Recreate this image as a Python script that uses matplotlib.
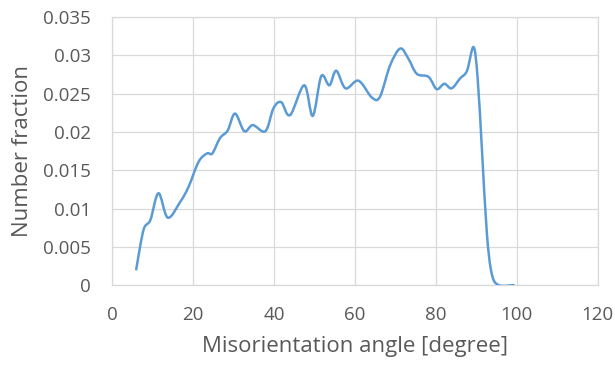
import matplotlib.pyplot as plt
import numpy as np
from matplotlib.patches import PathPatch
from matplotlib.path import Path

# values
angle = [6.0, 7.8, 9.5, 11.5, 13.8, 16.9, 18.9, 21.4, 23.5, 24.8, 26.7, 28.6,
         30.4, 32.7, 34.8, 37.9, 39.9, 41.8, 44.0, 47.5, 49.6, 51.7, 53.7,
         55.4, 57.7, 60.9, 64.2, 66.2, 68.7, 71.2, 73.2, 75.3, 78.2, 80.2,
         82.1, 83.9, 86.0, 87.7, 89.3, 90.3, 91.4, 92.6, 93.8, 95.5, 99.2]
fraction = [0.00205, 0.0072, 0.0085, 0.0120, 0.0088, 0.0109, 0.0128, 0.0161,
            0.0172, 0.0172, 0.0192, 0.0202, 0.0224, 0.0201, 0.0209, 0.0201,
            0.0231, 0.0239, 0.0222, 0.0261, 0.0221, 0.0273, 0.0261, 0.0280,
            0.0257, 0.0267, 0.0245, 0.0246, 0.0287, 0.0309, 0.0296, 0.0276,
            0.0272, 0.0256, 0.0263, 0.0257, 0.0270, 0.0280, 0.0311, 0.0272,
            0.0176, 0.0068, 0.0015, 0.0, 0.0]

x_ticks = [0, 20, 40, 60, 80, 100, 120]
y_ticks = [0, 0.005, 0.01, 0.015, 0.02, 0.025, 0.03, 0.035]
y_tick_labels = ["0", "0.005", "0.01", "0.015", "0.02", "0.025", "0.03", "0.035"]

LINE_COLOR = "#5b9bd5"
GRID_COLOR = "#d9d9d9"
TEXT_COLOR = "#595959"


def smooth_path(xs, ys, tension=1 / 6):
    # Excel-like smoothed line: Catmull-Rom segments as cubic Beziers
    pts = np.column_stack([xs, ys])
    verts = [pts[0]]
    codes = [Path.MOVETO]
    for i in range(len(pts) - 1):
        p0 = pts[max(i - 1, 0)]
        p1 = pts[i]
        p2 = pts[i + 1]
        p3 = pts[min(i + 2, len(pts) - 1)]
        c1 = p1 + (p2 - p0) * tension
        c2 = p2 - (p3 - p1) * tension
        verts += [c1, c2, p2]
        codes += [Path.CURVE4] * 3
    return Path(verts, codes)


plt.rcParams["font.family"] = ["Open Sans", "DejaVu Sans"]

fig = plt.figure(figsize=(6.15, 3.65), dpi=100)
ax = fig.add_axes([0.182, 0.219, 0.79, 0.734])

ax.add_patch(PathPatch(smooth_path(angle, fraction), facecolor="none",
                       edgecolor=LINE_COLOR, linewidth=1.8,
                       capstyle="round", joinstyle="round", zorder=3))

ax.set_xlim(0, 120)
ax.set_ylim(0, 0.035)
ax.set_xticks(x_ticks)
ax.set_yticks(y_ticks)
ax.set_yticklabels(y_tick_labels)
ax.grid(True, color=GRID_COLOR, linewidth=0.9)
ax.set_axisbelow(True)
for spine in ax.spines.values():
    spine.set_color(GRID_COLOR)
    spine.set_linewidth(0.9)
ax.tick_params(axis="y", length=0, colors=TEXT_COLOR, labelsize=13.5, pad=15)
ax.tick_params(axis="x", length=0, colors=TEXT_COLOR, labelsize=13.5, pad=15)

ax.set_xlabel("Misorientation angle [degree]", fontsize=16,
              color=TEXT_COLOR, labelpad=9)
ax.set_ylabel("Number fraction", fontsize=16, color=TEXT_COLOR, labelpad=7)

fig.savefig("out.png", dpi=100)
